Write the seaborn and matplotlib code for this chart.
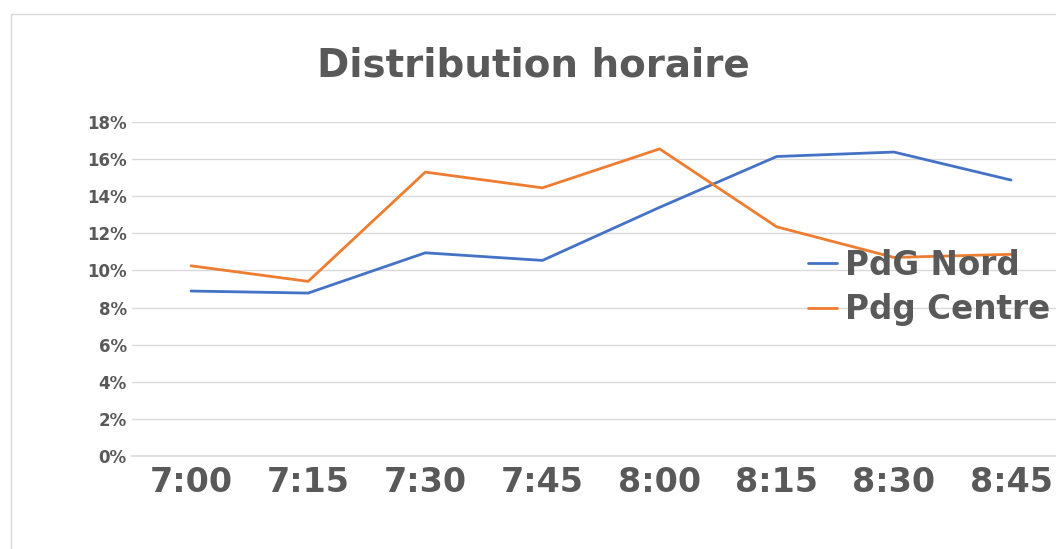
import matplotlib
matplotlib.use("Agg")
import matplotlib.pyplot as plt
from matplotlib.ticker import PercentFormatter
from matplotlib.patches import Rectangle
import pandas as pd
import seaborn as sns

# values
hours = ["7:00", "7:15", "7:30", "7:45", "8:00", "8:15", "8:30", "8:45"]
pdg_nord = [0.0889, 0.0878, 0.1095, 0.1054, 0.1340, 0.1614, 0.1638, 0.1487]
pdg_centre = [0.1025, 0.0941, 0.1530, 0.1445, 0.1655, 0.1235, 0.1070, 0.1087]
y_ticks = [0, 0.02, 0.04, 0.06, 0.08, 0.10, 0.12, 0.14, 0.16, 0.18]

df = pd.DataFrame({
    "heure": hours * 2,
    "part": pdg_nord + pdg_centre,
    "serie": ["PdG Nord"] * len(hours) + ["Pdg Centre"] * len(hours),
})

grey = "#595959"
sns.set_style("white")
plt.rcParams["font.family"] = ["DejaVu Sans"]

fig = plt.figure(figsize=(10.56, 5.49), dpi=100)
ax = fig.add_axes([0.1254, 0.1694, 0.8875, 0.6084])

# chart-area border
fig.patches.append(Rectangle((10.5 / 1056, -0.1), 1.2, 1 - 13.5 / 549 + 0.1,
                             transform=fig.transFigure, fill=False,
                             edgecolor="#d9d9d9", linewidth=1))

sns.lineplot(data=df, x="heure", y="part", hue="serie",
             palette=["#4472C4", "#ED7D31"], linewidth=2, ax=ax)

ax.set_xlim(-0.5, len(hours) - 0.5)
ax.set_ylim(0, 0.18)
ax.set_yticks(y_ticks)
ax.yaxis.set_major_formatter(PercentFormatter(xmax=1, decimals=0))
ax.grid(axis="y", color="#d9d9d9", linewidth=1)
ax.set_axisbelow(True)
for s in ax.spines.values():
    s.set_visible(False)
ax.spines["bottom"].set_visible(True)
ax.spines["bottom"].set_color("#d9d9d9")
ax.spines["bottom"].set_linewidth(1.2)
ax.tick_params(axis="both", length=0, colors=grey)
ax.tick_params(axis="x", labelsize=24, pad=7)
ax.tick_params(axis="y", labelsize=12, pad=4)
for lab in ax.get_xticklabels() + ax.get_yticklabels():
    lab.set_fontweight("bold")
ax.set_xlabel("")
ax.set_ylabel("")

fig.text(0.505, 1 - 76.7 / 549, "Distribution horaire", ha="center",
         va="baseline", fontsize=28, fontweight="bold", color=grey)

leg = ax.legend(loc="center left", bbox_to_anchor=(808 / 1056, 1 - 287.5 / 549),
                bbox_transform=fig.transFigure, frameon=False, fontsize=23.5,
                handlelength=0.89, handletextpad=0.24, labelspacing=0.36,
                borderpad=0, borderaxespad=0)
for t in leg.get_texts():
    t.set_color(grey)
    t.set_fontweight("bold")

fig.savefig("out.png", dpi=100)
